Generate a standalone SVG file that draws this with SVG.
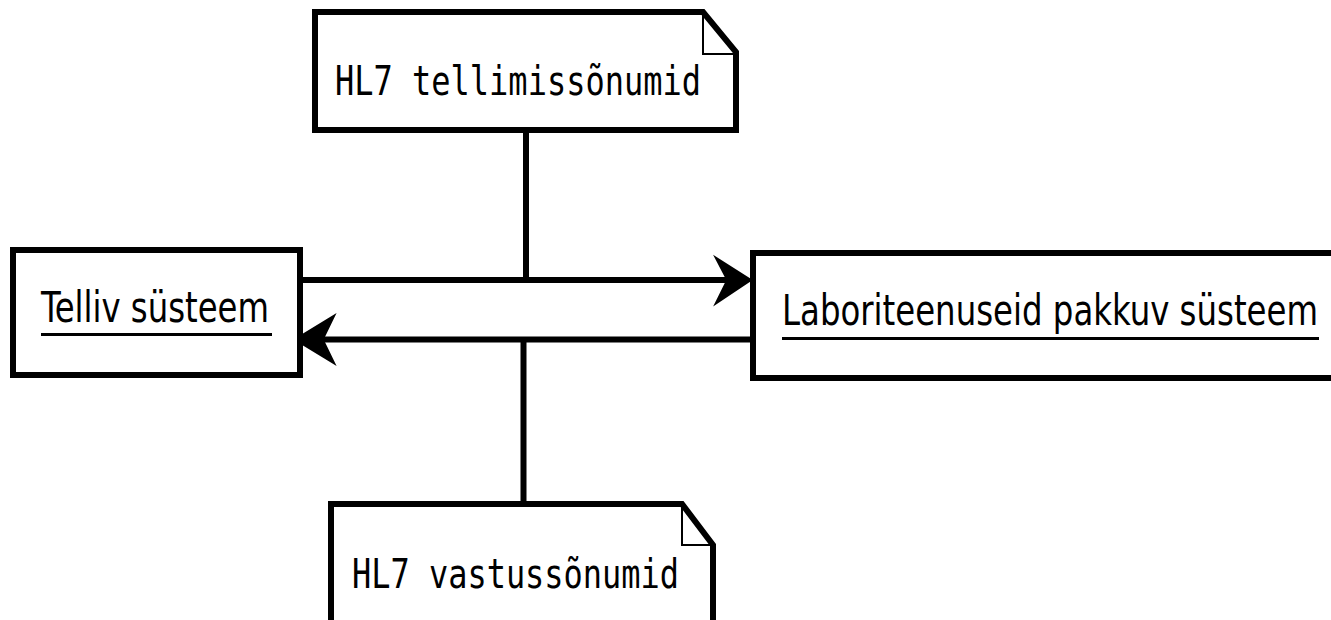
<svg xmlns="http://www.w3.org/2000/svg" width="1331" height="620" viewBox="0 0 1331 620">
  <style>
    .box { fill: #ffffff; stroke: #000000; stroke-width: 6; stroke-linejoin: miter; }
    .fold { fill: none; stroke: #000000; stroke-width: 2; }
    .line { fill: none; stroke: #000000; stroke-width: 6; }
    .head { fill: #000000; stroke: #000000; stroke-width: 3; stroke-linejoin: miter; }
    .ul { stroke: #000000; stroke-width: 3; }
    .label { font-family: "DejaVu Sans Condensed", "DejaVu Sans", "Liberation Sans", sans-serif; font-size: 42px; fill: #000000; }
    .note { font-family: "DejaVu Sans Mono", "Liberation Mono", monospace; font-size: 41px; fill: #000000; }
  </style>
  <rect width="1331" height="620" fill="#ffffff"/>

  <!-- connectors -->
  <g id="connectors">
    <line class="line" x1="300" y1="280" x2="740" y2="280"/>
    <polygon class="head" points="750,280 717,259 728,280 717,302"/>
    <line class="line" x1="753" y1="339.5" x2="310" y2="339.5"/>
    <polygon class="head" points="296,339.5 333,317 322,339.5 333,362"/>
    <line class="line" x1="526" y1="130" x2="526" y2="280"/>
    <line class="line" x1="523.5" y1="339.5" x2="523.5" y2="504"/>
  </g>

  <!-- ordering system -->
  <g id="telliv">
    <rect class="box" x="13" y="250" width="287" height="125"/>
    <text class="label" x="41" y="322" textLength="228" lengthAdjust="spacingAndGlyphs">Telliv süsteem</text>
    <line class="ul" x1="41" y1="334.5" x2="272" y2="334.5"/>
  </g>

  <!-- laboratory system -->
  <g id="labor">
    <rect class="box" x="753" y="253" width="600" height="125"/>
    <text class="label" x="782" y="325" textLength="536" lengthAdjust="spacingAndGlyphs">Laboriteenuseid pakkuv süsteem</text>
    <line class="ul" x1="782" y1="338.5" x2="1319" y2="338.5"/>
  </g>

  <!-- order messages note -->
  <g id="tellimus">
    <path class="box" d="M315,12 H703 L736,52 V130 H315 Z"/>
    <path class="fold" d="M703,12 V54 H736"/>
    <text class="note" x="335" y="95" textLength="366" lengthAdjust="spacingAndGlyphs">HL7 tellimissõnumid</text>
  </g>

  <!-- result messages note -->
  <g id="vastus">
    <path class="box" d="M331,504 H682 L713,545 V630 H331 Z"/>
    <path class="fold" d="M682,504 V545 H713"/>
    <text class="note" x="352" y="588" textLength="327" lengthAdjust="spacingAndGlyphs">HL7 vastussõnumid</text>
  </g>
</svg>
